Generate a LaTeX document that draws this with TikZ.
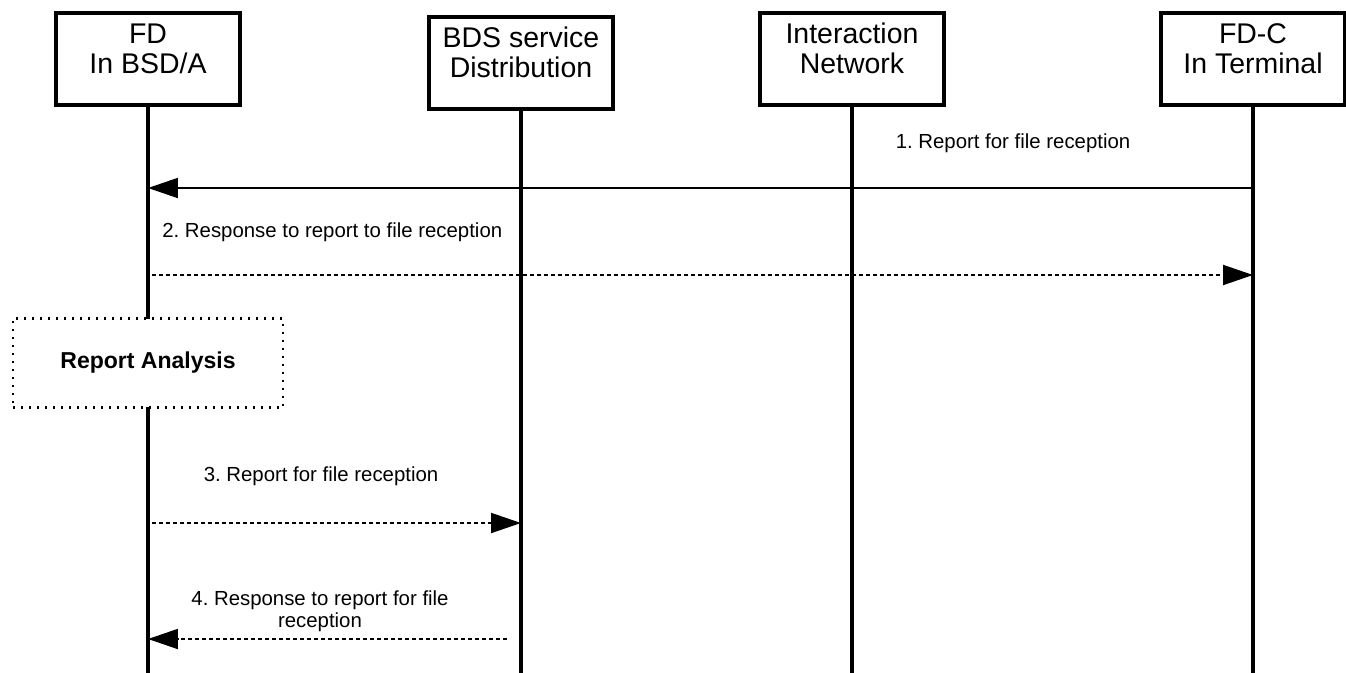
\documentclass[tikz,border=0pt]{standalone}
\usepackage{fontspec}
\setmainfont{Liberation Sans}
\usetikzlibrary{arrows.meta}
\usetikzlibrary{positioning}
\frenchspacing
\tikzset{
  actor/.style = {draw, line width=2.6pt, minimum width=3.68cm, minimum height=1.84cm,
    inner sep=0pt, text depth=0.42cm, align=center, font=\fontsize{16.2}{17.2}\selectfont},
  lifeline/.style = {line width=2.2pt},
  msg/.style = {line width=1.1pt, -{Triangle[length=0.6cm,width=0.4cm]}},
  reply/.style = {msg, dash pattern=on 0.08cm off 0.06cm},
  msg label/.style = {inner sep=0pt, align=center, font=\fontsize{11.6}{12.8}\selectfont},
  task box/.style = {draw, fill=white, line width=0.045cm, dash pattern=on 0.04cm off 0.12cm,
    minimum width=5.4cm, minimum height=1.78cm, font=\bfseries\fontsize{13.1}{15}\selectfont}
}

\begin{document}
\begin{tikzpicture}[x=0.02cm, y=-0.02cm]
\useasboundingbox (0,0) rectangle (1346,673);
\coordinate (bottom) at (0,673);
% participants
\node[actor] (fd)  at (148,59)  {FD\\In BSD/A};
\node[actor] (bds) at (521,63)  {BDS service\\Distribution};
\node[actor] (inw) at (852,59)  {Interaction\\Network};
\node[actor] (fdc) at (1253,59) {FD-C\\In Terminal};
\foreach \p in {fd,bds,inw,fdc}
  \draw[lifeline] (\p.south) -- (\p |- bottom);
% messages
\coordinate (m1) at (0,188);
\coordinate (m2) at (0,275);
\coordinate (m3) at (0,523);
\coordinate (m4) at (507,639);
\draw[msg] (fdc |- m1) -- (fd |- m1);
\node[msg label] (l1) at (1013,143) {1. Report for file reception};
\draw[reply, shorten <=0.08cm] (fd |- m2) -- (fdc |- m2);
\node[msg label, anchor=west] (l2) at (162,232) {2. Response to report to file reception};
\node[task box] (analysis) at (148,363) {Report Analysis};
\draw[reply, shorten <=0.08cm] (fd |- m3) -- (bds |- m3);
\node[msg label] (l3) at (321,476) {3. Report for file reception};
\draw[reply] (m4) -- (fd |- m4);
\node[msg label] (l4) at (320,611) {4. Response to report for file\\reception};
\end{tikzpicture}
\end{document}
